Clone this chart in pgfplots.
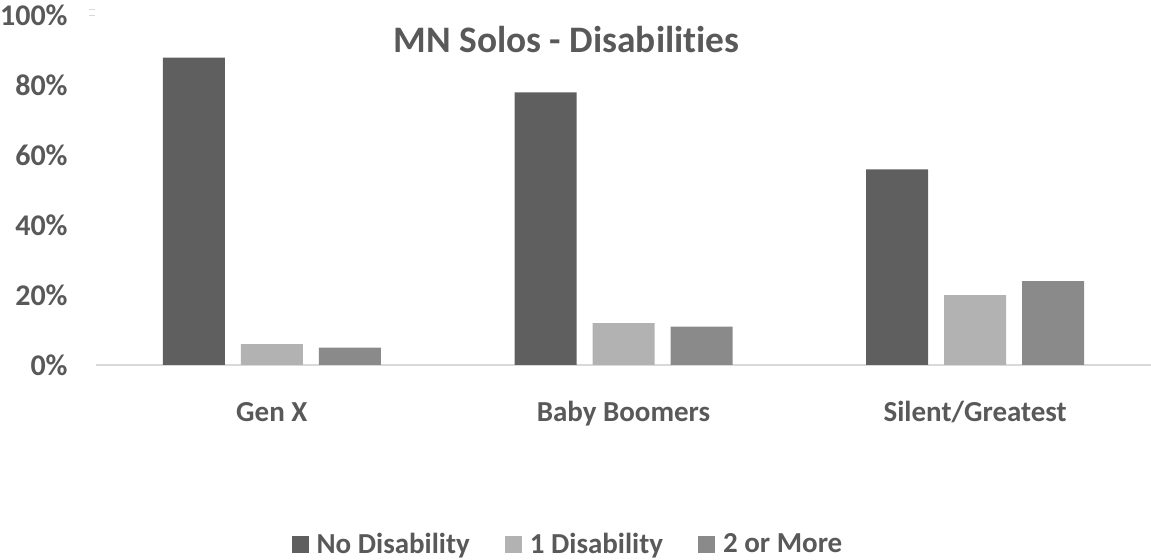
\documentclass[border=0pt]{standalone}
\usepackage{fontspec}
\setmainfont{Carlito}[Ligatures=NoCommon]
\usepackage{pgfplots}
\pgfplotsset{compat=1.18}
\definecolor{cA}{HTML}{5F5F5F}
\definecolor{cB}{HTML}{B2B2B2}
\definecolor{cC}{HTML}{8A8A8A}
\definecolor{txt}{HTML}{595959}
\definecolor{axc}{HTML}{D9D9D9}
\begin{document}
\begin{tikzpicture}
\begin{axis}[
  at={(0,0)}, anchor=south west,
  scale only axis, width=527.5pt, height=174.7pt,
  ymin=0, ymax=100, xmin=-0.5, xmax=2.5,
  ybar=8pt, bar width=31pt,
  xtick={0,1,2}, xticklabels={Gen X, Baby Boomers, Silent/Greatest},
  ytick={0,20,40,60,80,100}, yticklabels={0\%,20\%,40\%,60\%,80\%,100\%},
  axis x line*=bottom, axis y line*=left,
  y axis line style={draw=none},
  x axis line style={draw=axc, line width=1pt},
  tick style={draw=none},
  xticklabel style={font=\bfseries\fontsize{14.5}{17}\selectfont, text=txt, anchor=base, yshift=-23.8pt},
  yticklabel style={font=\bfseries\fontsize{15}{17}\selectfont, text=txt, anchor=east, inner sep=0pt, xshift=-14pt},
  legend style={at={(0.4502,-0.515)}, anchor=center, draw=none, fill=none,
    legend columns=3, font=\bfseries\fontsize{14.5}{17}\selectfont, text=txt,
    /tikz/every even column/.append style={column sep=13.5pt},
    nodes={inner xsep=4pt, inner ysep=1pt}},
  legend image code/.code={\fill[#1,draw=none] (0pt,-4pt) rectangle (8.5pt,4.5pt);},
]
\addplot[fill=cA, draw=none] coordinates {(0,88) (1,78) (2,56)};
\addplot[fill=cB, draw=none] coordinates {(0,6) (1,12) (2,20)};
\addplot[fill=cC, draw=none] coordinates {(0,5) (1,11) (2,24)};
\legend{No Disability, 1 Disability, 2 or More}
\end{axis}
\node[anchor=base, font=\bfseries\fontsize{18.7}{22}\selectfont, text=txt] at (235.25pt,156pt) {MN Solos - Disabilities};
\draw[axc, line width=0.5pt] (-3.5pt,174.5pt) -- (-0.5pt,174.5pt);
\draw[axc, line width=0.5pt] (-3.5pt,177.5pt) -- (-0.5pt,177.5pt);
\pgfresetboundingbox
\useasboundingbox (-48pt,-97.5pt) rectangle (527.5pt,182.5pt);
\end{tikzpicture}
\end{document}
